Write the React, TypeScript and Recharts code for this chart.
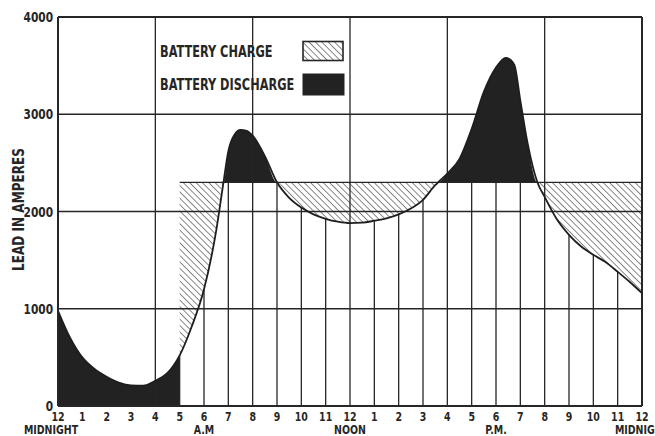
import React from 'react';
import {
  ComposedChart,
  Area,
  Line,
  XAxis,
  YAxis,
  CartesianGrid,
  ReferenceLine,
  Legend,
} from 'recharts';

// ---- data ----
const hours = [
  0, 0.5, 1, 1.5, 2, 2.5, 3, 3.5, 4, 4.5, 5, 5.5, 6, 6.5, 6.8, 7, 7.25, 7.5, 7.75, 8, 8.5, 9,
  9.5, 10, 10.5, 11, 11.5, 12, 12.5, 13, 13.5, 14, 14.5, 15, 15.5, 15.62, 16, 16.5, 17, 17.5, 18,
  18.4, 18.75, 19, 19.3, 19.7, 20, 20.5, 21, 21.5, 22, 22.5, 23, 23.5, 24,
];
const load = [
  980, 700, 500, 380, 300, 240, 212, 210, 260, 340, 520, 820, 1200, 1800, 2300, 2620, 2790, 2840,
  2830, 2780, 2570, 2300, 2140, 2040, 1970, 1925, 1895, 1880, 1885, 1905, 1930, 1970, 2030, 2120,
  2270, 2300, 2390, 2540, 2850, 3230, 3480, 3580, 3510, 3140, 2700, 2300, 2150, 1920, 1760, 1640,
  1555, 1480, 1380, 1275, 1160,
];
const chargeLevel = 2300;
const chargeStartHour = 5;

const hourTicks = [0, 1, 2, 3, 4, 5, 6, 7, 8, 9, 10, 11, 12, 13, 14, 15, 16, 17, 18, 19, 20, 21, 22, 23, 24];
const hourLabels = ['12', '1', '2', '3', '4', '5', '6', '7', '8', '9', '10', '11', '12', '1', '2', '3', '4', '5', '6', '7', '8', '9', '10', '11', '12'];
const periodLabels = ['MIDNIGHT', '', '', '', '', '', 'A.M', '', '', '', '', '', 'NOON', '', '', '', '', '', 'P.M.', '', '', '', '', '', 'MIDNIGHT'];
const yTicks = [0, 1000, 2000, 3000, 4000];
const majorHours = [4, 8, 12, 16, 20, 24];
const minorHours = [5, 6, 7, 9, 10, 11, 13, 14, 15, 17, 18, 19, 21, 22, 23];

const legendItems = ['BATTERY CHARGE', 'BATTERY DISCHARGE'];

// ---- derived table ----
const table = hours.map((h, i) => {
  const v = load[i];
  return {
    h,
    load: v,
    night: h <= chargeStartHour ? [0, v] : null,
    discharge: h >= chargeStartHour ? [chargeLevel, Math.max(v, chargeLevel)] : null,
    charge: h >= chargeStartHour ? [Math.min(v, chargeLevel), chargeLevel] : null,
  };
});
const loadAt = (h: number) => load[hours.indexOf(h)];

const FONT = '"DejaVu Sans Condensed", "Liberation Sans Narrow", sans-serif';
const INK = '#262626';
const SQ = 0.84; // horizontal squeeze to imitate the narrow lettering

const NarrowText = ({ x, y, size, anchor = 'start', children, rotate = 0 }: any) => (
  <g transform={`translate(${x} ${y}) rotate(${rotate}) scale(${SQ} 1)`}>
    <text x={0} y={0} textAnchor={anchor} fontFamily={FONT} fontWeight="bold" fontSize={size} fill={INK}>
      {children}
    </text>
  </g>
);

const XTick = (props: any) => {
  const { x, y, payload } = props;
  const i = hourTicks.indexOf(payload.value);
  const period = periodLabels[i] || '';
  const dxPeriod = i === 0 ? -7 : 0;
  return (
    <g>
      <NarrowText x={x} y={y + 7} size={12.5} anchor="middle">
        {hourLabels[i]}
      </NarrowText>
      {period ? (
        <NarrowText x={x + dxPeriod} y={y + 19.5} size={12.5} anchor="middle">
          {period}
        </NarrowText>
      ) : null}
    </g>
  );
};

const YTick = (props: any) => {
  const { x, y, payload } = props;
  return (
    <NarrowText x={x} y={y + 5} size={14} anchor="end">
      {String(payload.value)}
    </NarrowText>
  );
};

const YLabel = (props: any) => {
  const vb = props.viewBox || { x: 0, y: 0, width: 58, height: 400 };
  const cx = vb.x + 24;
  const cy = vb.y + vb.height / 2 - 2;
  return (
    <NarrowText x={cx} y={cy} size={16} anchor="middle" rotate={-90}>
      LEAD IN AMPERES
    </NarrowText>
  );
};

const LegendBox = () => (
  <svg width={190} height={62} style={{ display: 'block', overflow: 'visible' }}>
    <defs>
      <pattern id="hatchLegend" patternUnits="userSpaceOnUse" width={4.5} height={4.5} patternTransform="rotate(-45)">
        <line x1={0} y1={0} x2={0} y2={4.5} stroke={INK} strokeWidth={1.1} />
      </pattern>
    </defs>
    <NarrowText x={2} y={19} size={15}>
      {legendItems[0]}
    </NarrowText>
    <rect x={145} y={3.5} width={40} height={19} fill="url(#hatchLegend)" stroke={INK} strokeWidth={1.6} />
    <NarrowText x={2} y={52} size={15}>
      {legendItems[1]}
    </NarrowText>
    <rect x={145} y={36} width={41} height={21} fill="#222" stroke="#222" strokeWidth={1} />
  </svg>
);

export default function App() {
  return (
    <div style={{ position: 'absolute', left: 0, top: 0, width: 655, height: 436, background: '#fff' }}>
      <ComposedChart
        width={655}
        height={436}
        data={table}
        margin={{ top: 17, right: 13, left: 0, bottom: 0 }}
      >
        <defs>
          <pattern id="hatch" patternUnits="userSpaceOnUse" width={4.5} height={4.5} patternTransform="rotate(-45)">
            <line x1={0} y1={0} x2={0} y2={4.5} stroke={INK} strokeWidth={1.1} />
          </pattern>
        </defs>
        <CartesianGrid vertical={false} stroke={INK} strokeWidth={1.3} />
        <XAxis
          dataKey="h"
          type="number"
          domain={[0, 24]}
          ticks={hourTicks}
          interval={0}
          tick={<XTick />}
          tickLine={false}
          axisLine={{ stroke: INK, strokeWidth: 2 }}
          height={30}
          allowDataOverflow
        />
        <YAxis
          type="number"
          domain={[0, 4000]}
          ticks={yTicks}
          interval={0}
          width={58}
          tickLine={false}
          tickSize={0}
          tickMargin={5}
          axisLine={{ stroke: INK, strokeWidth: 2 }}
          tick={<YTick />}
          label={<YLabel />}
        />
        {majorHours.map((h) => (
          <ReferenceLine key={'maj' + h} x={h} stroke={INK} strokeWidth={h === 24 ? 2 : 1.3} ifOverflow="extendDomain" />
        ))}
        <ReferenceLine y={4000} stroke={INK} strokeWidth={2} />
        {minorHours.map((h) => (
          <ReferenceLine
            key={'min' + h}
            segment={[
              { x: h, y: 0 },
              { x: h, y: Math.min(loadAt(h), chargeLevel) },
            ]}
            stroke={INK}
            strokeWidth={1.3}
          />
        ))}
        <Area dataKey="charge" type="monotone" stroke="none" fill="url(#hatch)" fillOpacity={1} isAnimationActive={false} />
        <Area dataKey="night" type="monotone" stroke="none" fill="#222" fillOpacity={1} isAnimationActive={false} />
        <Area dataKey="discharge" type="monotone" stroke="none" fill="#222" fillOpacity={1} isAnimationActive={false} />
        <ReferenceLine
          segment={[
            { x: chargeStartHour, y: chargeLevel },
            { x: 24, y: chargeLevel },
          ]}
          stroke={INK}
          strokeWidth={1.4}
        />
        <Line dataKey="load" type="monotone" stroke="#1e1e1e" strokeWidth={1.8} dot={false} isAnimationActive={false} />
        <Legend
          layout="vertical"
          align="center"
          verticalAlign="middle"
          wrapperStyle={{ left: 158, top: 38, width: 190, height: 62 }}
          content={<LegendBox />}
        />
      </ComposedChart>
    </div>
  );
}
